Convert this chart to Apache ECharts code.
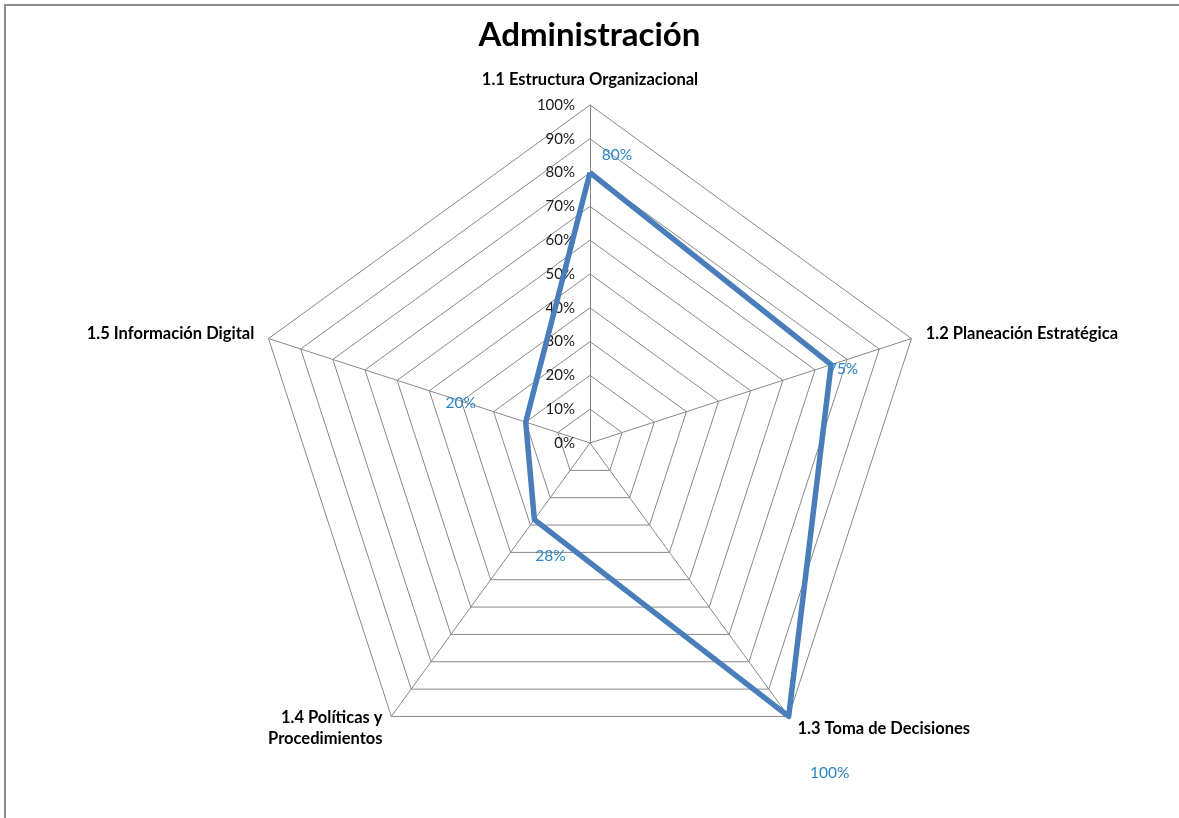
<!DOCTYPE html>
<html><head><meta charset="utf-8">
<script src="https://cdn.jsdelivr.net/npm/echarts@6/dist/echarts.min.js"></script>
<style>html,body{margin:0;padding:0;background:#fff}#c{width:1179px;height:818px}</style>
</head><body><div id="c"></div>
<script>
const title = 'Administración';
const categories = ['1.1 Estructura Organizacional','1.2 Planeación Estratégica','1.3 Toma de Decisiones','1.4 Políticas y\nProcedimientos','1.5 Información Digital'];
const values = [80, 75, 100, 28, 20];
const tickMax = 100;
const tickStep = 10;

// ECharts lays radar indicators counter-clockwise; Excel goes clockwise -> reorder
const order = [0, 4, 3, 2, 1];
const ordCats = order.map(i => categories[i]);
const ordVals = order.map(i => values[i]);
// label offsets (relative to vertex) per original category
const labelOffsets = [[27,-18],[12,4],[41,57],[16,36],[-65,-19]];
const FONT = 'Lato, "Open Sans", sans-serif';

const chart = echarts.init(document.getElementById('c'));
const indicator = ordCats.map((n, k) => {
  const o = {name: n, min: 0, max: tickMax};
  if (k === 0) o.axisLabel = {show: true};
  return o;
});
const labelSeries = order.map((orig, k) => ({
  type: 'radar',
  data: [{value: ordVals}],
  symbol: 'circle', symbolSize: 1,
  itemStyle: {color: 'rgba(0,0,0,0)'},
  lineStyle: {opacity: 0, width: 0},
  silent: true, z: 5,
  label: {
    show: true, position: 'inside', offset: labelOffsets[orig],
    color: '#2A84C6', fontSize: 15.5, fontFamily: FONT,
    formatter: p => {
      if (p.dimensionIndex !== k) return '';
      const v = Array.isArray(p.value) ? p.value[k] : p.value;
      return v + '%';
    }
  }
}));
chart.setOption({
  animation: false,
  title: {text: title, left: 'center', top: 14, textStyle: {fontSize: 33, fontWeight: 'bold', color: '#000', fontFamily: FONT}},
  graphic: [{type: 'rect', shape: {x: 5, y: 5, width: 1200, height: 900}, style: {fill: 'none', stroke: '#8c8c8c', lineWidth: 2}, silent: true}],
  radar: {
    center: [590, 443], radius: 338, startAngle: 90,
    shape: 'polygon', splitNumber: tickMax / tickStep,
    indicator: indicator,
    axisName: {color: '#000', fontSize: 16.5, fontWeight: 'bold', fontFamily: FONT, lineHeight: 21},
    nameGap: 15,
    axisLine: {lineStyle: {color: '#888', width: 1}},
    splitLine: {lineStyle: {color: '#888', width: 1}},
    splitArea: {show: false},
    axisTick: {show: false},
    axisLabel: {show: false, color: '#1a1a1a', fontSize: 15, fontFamily: FONT, formatter: v => v + '%', margin: 15}
  },
  series: [{
    type: 'radar',
    data: [{value: ordVals}],
    symbol: 'circle', symbolSize: 1,
    itemStyle: {color: '#4A7EBB'},
    lineStyle: {color: '#4A7EBB', width: 5.5},
    z: 3
  }].concat(labelSeries)
});
</script></body></html>
